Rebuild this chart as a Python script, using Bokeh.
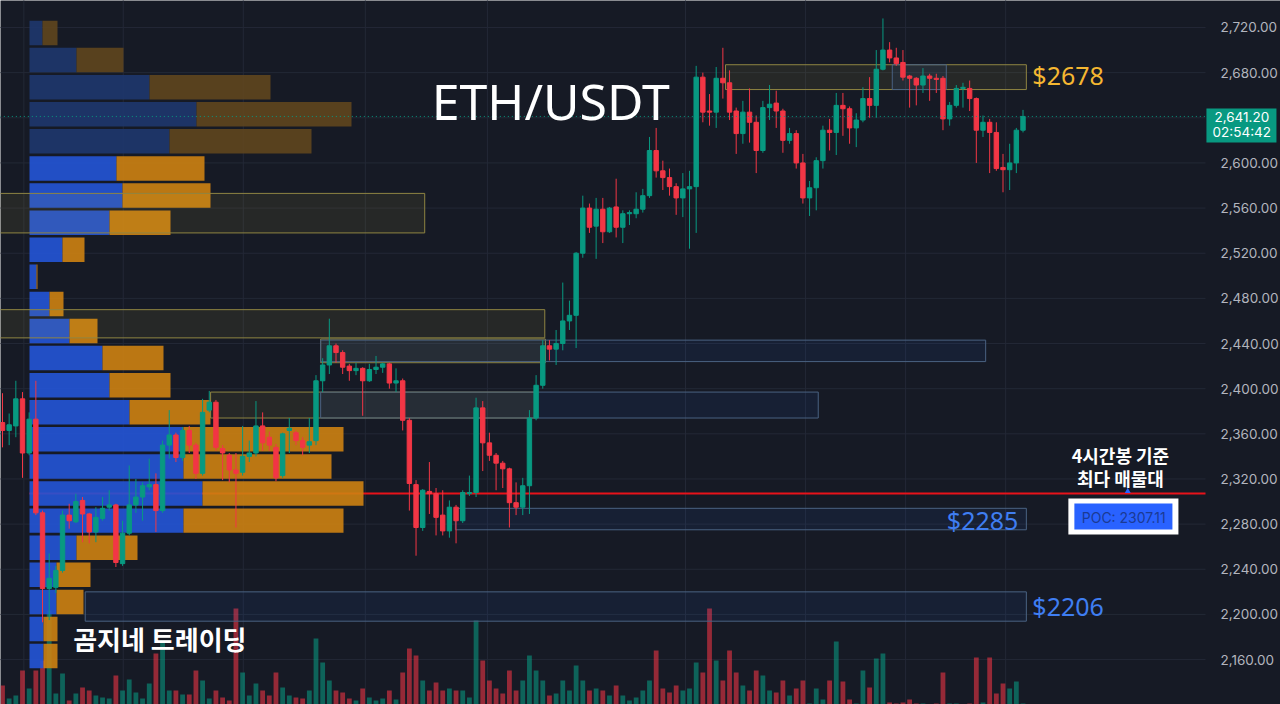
from bokeh.plotting import figure
from bokeh.models import Range1d, FixedTicker, NumeralTickFormatter, ColumnDataSource
from bokeh.core.properties import value
from bokeh.embed import file_html
from bokeh.resources import INLINE

# ---------------- data (ETH/USDT 4h candles) ----------------
opens = [2370, 2363, 2367, 2391, 2343, 2373, 2290, 2223, 2224, 2239,
         2288, 2282, 2301, 2289, 2273, 2285, 2295, 2297, 2245, 2272,
         2297, 2304, 2313, 2315, 2292, 2350, 2359, 2339, 2363, 2350,
         2325, 2381, 2388, 2347, 2341, 2328, 2326, 2340, 2343, 2367,
         2357, 2348, 2323, 2363, 2361, 2354, 2350, 2354, 2407, 2421,
         2438, 2432, 2420, 2416, 2418, 2407, 2417, 2419, 2422, 2405,
         2407, 2372, 2315, 2277, 2309, 2307, 2288, 2274, 2295, 2283,
         2307, 2308, 2383, 2352, 2341, 2334, 2329, 2299, 2295, 2314,
         2374, 2403, 2438, 2435, 2440, 2460, 2465, 2520, 2560, 2544,
         2559, 2539, 2561, 2543, 2555, 2555, 2559, 2571, 2611, 2593,
         2587, 2579, 2569, 2577, 2579, 2676, 2646, 2645, 2675, 2671,
         2646, 2626, 2645, 2636, 2611, 2649, 2653, 2646, 2620, 2626,
         2600, 2569, 2578, 2602, 2629, 2627, 2651, 2648, 2631, 2638,
         2657, 2651, 2683, 2700, 2693, 2689, 2677, 2675, 2669, 2677,
         2675, 2675, 2639, 2651, 2666, 2666, 2657, 2629, 2636, 2627,
         2596, 2594, 2600, 2629]
highs = [2396, 2378, 2407, 2397, 2379, 2407, 2292, 2254, 2243, 2292,
         2298, 2307, 2304, 2290, 2295, 2304, 2310, 2298, 2283, 2332,
         2320, 2317, 2338, 2325, 2354, 2381, 2361, 2366, 2367, 2352,
         2391, 2398, 2390, 2350, 2343, 2343, 2367, 2354, 2389, 2379,
         2362, 2351, 2361, 2374, 2363, 2357, 2374, 2412, 2427, 2462,
         2440, 2434, 2422, 2423, 2419, 2422, 2429, 2423, 2423, 2418,
         2409, 2374, 2319, 2311, 2335, 2312, 2310, 2301, 2297, 2310,
         2323, 2392, 2389, 2361, 2343, 2336, 2330, 2317, 2321, 2381,
         2412, 2443, 2443, 2452, 2494, 2478, 2521, 2571, 2564, 2569,
         2569, 2561, 2586, 2558, 2558, 2574, 2577, 2623, 2631, 2602,
         2595, 2582, 2591, 2593, 2686, 2680, 2661, 2685, 2702, 2682,
         2649, 2655, 2666, 2642, 2655, 2669, 2664, 2648, 2631, 2629,
         2608, 2584, 2605, 2633, 2639, 2662, 2662, 2650, 2644, 2667,
         2676, 2700, 2728, 2707, 2702, 2700, 2678, 2676, 2684, 2679,
         2679, 2677, 2654, 2669, 2671, 2673, 2658, 2642, 2639, 2636,
         2608, 2617, 2631, 2647]
lows = [2348, 2350, 2357, 2321, 2341, 2288, 2193, 2195, 2219, 2237,
        2276, 2281, 2264, 2263, 2264, 2283, 2292, 2242, 2243, 2270,
        2290, 2283, 2310, 2273, 2290, 2338, 2335, 2336, 2343, 2320,
        2323, 2379, 2345, 2319, 2317, 2277, 2323, 2335, 2340, 2345,
        2345, 2318, 2321, 2343, 2350, 2341, 2343, 2350, 2397, 2413,
        2423, 2413, 2407, 2412, 2376, 2406, 2413, 2414, 2400, 2397,
        2363, 2292, 2252, 2274, 2289, 2270, 2270, 2268, 2263, 2281,
        2305, 2304, 2327, 2336, 2310, 2312, 2277, 2288, 2288, 2289,
        2372, 2400, 2425, 2421, 2434, 2452, 2436, 2516, 2538, 2515,
        2529, 2538, 2534, 2529, 2545, 2551, 2556, 2569, 2587, 2576,
        2571, 2554, 2552, 2524, 2538, 2636, 2633, 2631, 2657, 2638,
        2608, 2617, 2618, 2591, 2609, 2638, 2631, 2609, 2617, 2595,
        2564, 2553, 2558, 2595, 2611, 2607, 2624, 2617, 2614, 2636,
        2640, 2640, 2682, 2689, 2686, 2673, 2649, 2651, 2662, 2655,
        2662, 2629, 2633, 2649, 2649, 2646, 2600, 2623, 2591, 2593,
        2574, 2576, 2591, 2627]
closes = [2363, 2368, 2391, 2343, 2373, 2290, 2223, 2232, 2239, 2288,
          2283, 2300, 2289, 2273, 2286, 2294, 2297, 2246, 2272, 2297,
          2304, 2314, 2315, 2292, 2350, 2359, 2339, 2363, 2350, 2325,
          2379, 2388, 2348, 2343, 2328, 2325, 2340, 2343, 2367, 2352,
          2350, 2321, 2360, 2365, 2354, 2348, 2353, 2407, 2421, 2438,
          2432, 2419, 2416, 2418, 2407, 2417, 2419, 2422, 2405, 2407,
          2372, 2316, 2277, 2310, 2307, 2286, 2274, 2295, 2283, 2308,
          2308, 2383, 2352, 2341, 2334, 2329, 2299, 2295, 2314, 2374,
          2403, 2438, 2435, 2440, 2460, 2465, 2520, 2560, 2543, 2559,
          2539, 2560, 2543, 2555, 2556, 2559, 2571, 2611, 2593, 2587,
          2579, 2569, 2577, 2579, 2676, 2645, 2645, 2675, 2671, 2645,
          2626, 2645, 2636, 2611, 2649, 2652, 2646, 2620, 2626, 2600,
          2569, 2578, 2602, 2629, 2627, 2651, 2648, 2631, 2638, 2657,
          2651, 2683, 2700, 2693, 2688, 2676, 2675, 2669, 2677, 2675,
          2674, 2639, 2651, 2666, 2667, 2657, 2629, 2636, 2627, 2595,
          2594, 2600, 2629, 2641.2]
volumes = [21, 8, 11, 36, 18, 36, 46, 96, 13, 33,
           6, 13, 19, 16, 11, 9, 8, 31, 16, 27,
           14, 8, 23, 53, 66, 16, 16, 12, 12, 36,
           26, 8, 16, 9, 6, 98, 34, 11, 23, 16,
           11, 34, 19, 11, 9, 8, 16, 68, 44, 26,
           16, 14, 8, 6, 18, 9, 6, 8, 16, 7,
           34, 58, 51, 26, 16, 24, 16, 18, 16, 16,
           9, 86, 46, 26, 18, 13, 36, 16, 26, 51,
           36, 26, 11, 13, 26, 16, 41, 26, 16, 18,
           16, 11, 21, 11, 6, 9, 16, 26, 56, 18,
           14, 21, 16, 18, 44, 34, 98, 46, 26, 56,
           34, 21, 16, 36, 31, 16, 14, 26, 11, 18,
           26, 3, 18, 7, 26, 65, 25, 7, 3, 36,
           19, 48, 53, 4, 3, 4, 7, 3, 3, 2,
           3, 34, 3, 3, 2, 3, 49, 4, 49, 13,
           23, 18, 25, 3]

# volume profile (rows of 24 USDT, buy / sell volume)
row_price = [2715.1, 2691.1, 2667.1, 2643.1, 2619.1, 2595.1, 2571.1, 2547.1,
             2523.1, 2499.1, 2475.1, 2451.1, 2427.1, 2403.1, 2379.1, 2355.1,
             2331.1, 2307.1, 2283.1, 2259.1, 2235.1, 2211.1, 2187.1, 2163.1]
row_buy = [13, 47, 120, 167, 140, 87, 93, 80, 33, 7, 20, 40,
           73, 80, 100, 154, 154, 173, 154, 47, 27, 27, 14, 14]
row_sell = [15, 47, 121, 155, 142, 88, 88, 61, 22, 1, 14, 28,
            61, 61, 81, 160, 148, 161, 160, 61, 34, 27, 14, 14]
row_in_value_area = [False] * 5 + [True] * 19

# zones: start candle, end candle, top price, bottom price
zone_start = [-1, -1, 47.7, 31.2, 108.4, 47.7, 47.7, 67.9, 12.4, 133.4]
zone_end = [63.3, 81.3, 81.4, 79.9, 153.5, 147.4, 122.3, 153.5, 153.5, 141.5]
zone_top = [2573, 2470, 2444, 2397, 2687, 2443, 2397, 2294, 2220, 2687]
zone_bottom = [2538, 2445, 2423, 2374, 2665, 2424, 2374, 2275, 2194, 2665]
zone_kind = ["y", "y", "y", "y", "y", "b", "b", "b", "b", "b"]

poc_price = 2307.11
last_price = 2641.20
grid_ticks = [2120, 2160, 2200, 2240, 2280, 2320, 2360, 2400, 2440, 2480,
              2520, 2560, 2600, 2640, 2680, 2720]
label_ticks = [2120, 2160, 2200, 2240, 2280, 2320, 2360, 2400, 2440, 2480,
               2520, 2560, 2600, 2680, 2720]
time_grid = [3.2, 18.1, 36.1, 54.4, 72.7, 102.4, 120.4, 135.4, 150.4]

# ---------------- styling ----------------
BG = "#161a25"
GRID = "#232836"
UP = "#089981"
DOWN = "#f23645"
X_END = 180.36        # right edge of the price pane (candle units)

p = figure(frame_width=1280, frame_height=704,
           x_range=Range1d(-0.2999, 191.604), y_range=Range1d(2120.2, 2743.9),
           output_backend="svg", toolbar_location=None,
           x_axis_location=None, y_axis_location="right",
           background_fill_color=BG, border_fill_color=BG,
           min_border_left=0, min_border_top=0, min_border_bottom=0,
           min_border_right=0)
p.outline_line_color = None
p.xgrid.visible = False
p.ygrid.visible = False
p.extra_x_ranges = {"vp": Range1d(-29, 1251)}
p.extra_y_ranges = {"vol": Range1d(2, 706)}

ax = p.yaxis[0]
ax.fixed_location = X_END
ax.ticker = FixedTicker(ticks=label_ticks)
ax.formatter = NumeralTickFormatter(format="0,0.00")
ax.axis_line_color = None
ax.major_tick_line_color = None
ax.minor_tick_line_color = None
ax.major_label_text_color = "#b2b5be"
ax.major_label_text_font = "Inter"
ax.major_label_text_font_size = "13.5px"
ax.major_label_standoff = 9

# grid
p.segment(x0=[-1] * len(grid_ticks), y0=grid_ticks, x1=[X_END] * len(grid_ticks),
          y1=grid_ticks, line_color=GRID, line_width=1)
p.segment(x0=time_grid, y0=[2100] * len(time_grid), x1=time_grid,
          y1=[2760] * len(time_grid), line_color=GRID, line_width=1)

# volume bars
idx = list(range(len(opens)))
colors = [UP if c >= o else DOWN for o, c in zip(opens, closes)]
src = ColumnDataSource(dict(
    x=idx, open=opens, high=highs, low=lows, close=closes, vol=volumes,
    color=colors,
    top=[max(o, c) for o, c in zip(opens, closes)],
    bottom=[min(o, c) for o, c in zip(opens, closes)]))
p.vbar(x="x", top="vol", bottom=0, width=0.72, source=src, y_range_name="vol",
       fill_color="color", fill_alpha=0.58, line_color=None)

# POC line (under the profile)
p.segment(x0=[0], y0=[poc_price], x1=[1176], y1=[poc_price], x_range_name="vp",
          line_color="#e8121a", line_width=2)

# volume profile
buy_col = ["#2355d7" if v else "#1e376e" for v in row_in_value_area]
sell_col = ["#cd8212" if v else "#5f461e" for v in row_in_value_area]
p.hbar(y=row_price, left=0, right=row_buy, height=21.7, x_range_name="vp",
       fill_color=buy_col, line_color=None, fill_alpha=0.9)
p.hbar(y=row_price, left=row_buy, right=[b + s for b, s in zip(row_buy, row_sell)],
       height=21.7, x_range_name="vp", fill_color=sell_col, line_color=None,
       fill_alpha=0.9)

# zones
zfill = ["#ffe94a" if k == "y" else "#2f6cff" for k in zone_kind]
zline = ["#8f8542" if k == "y" else "#4a6282" for k in zone_kind]
zalpha = [0.07 if k == "y" else 0.07 for k in zone_kind]
p.quad(left=zone_start, right=zone_end, top=zone_top, bottom=zone_bottom,
       fill_color=zfill, fill_alpha=zalpha, line_color=zline, line_width=1)

# candles
p.segment(x0="x", y0="low", x1="x", y1="high", source=src, line_color="color",
          line_width=1)
p.vbar(x="x", top="top", bottom="bottom", width=0.66, source=src,
       fill_color="color", line_color="color", line_width=1)

# last price line
p.segment(x0=[-1], y0=[last_price], x1=[X_END], y1=[last_price], line_color=UP,
          line_dash="1 3", line_width=1)


def txt(x, y, t, size, color, align="left", font="Noto Sans", style="normal"):
    p.text(x=[x], y=[y], text=[t], text_font=value(font), text_font_size=size,
           text_color=color, text_align=align, text_baseline="middle",
           text_font_style=style)


txt(82.2, 2655.3, "ETH/USDT", "50px", "#ffffff", "center")
txt(10.6, 2178.6, "곰지네 트레이딩", "26px", "#ffffff", "left",
    "Noto Sans CJK KR", "bold")
txt(167.6, 2341.2, "4시간봉 기준", "18px", "#ffffff", "center",
    "Noto Sans CJK KR", "bold")
txt(167.6, 2321.0, "최다 매물대", "18px", "#ffffff", "center",
    "Noto Sans CJK KR", "bold")
txt(154.4, 2677.5, "$2678", "25px", "#f5b731")
txt(152.3, 2284.0, "$2285", "25px", "#3f7ef2", "right")
txt(154.4, 2207.8, "$2206", "25px", "#3f7ef2")

# POC badge
p.quad(left=[159.8], right=[176.3], top=[2302.7], bottom=[2270.8],
       fill_color="#ffffff", line_color=None)
p.quad(left=[160.7], right=[175.4], top=[2298.2], bottom=[2275.2],
       fill_color="#2962ff", line_color=None)
txt(168.1, 2285.8, "POC: 2307.11", "14px", "#1b3a94", "center", "Inter")
p.scatter(x=[168.7], y=[poc_price + 2], marker="triangle", size=6,
          fill_color="#2962ff", line_color=None)

# last price badge on the price scale
p.quad(left=[180.5], right=[191.0], top=[2648.2], bottom=[2618.0],
       fill_color=UP, line_color=None)
txt(185.8, 2640.4, "2,641.20", "13.5px", "#ffffff", "center", "Inter")
txt(185.8, 2627.6, "02:54:42", "13.5px", "#ffffff", "center", "Inter")

html = file_html(p, INLINE, title="ETH/USDT")
html = html.replace("<body>", '<body style="margin:0;background:#161a25;overflow:hidden">', 1)
open("out.html", "w").write(html)
